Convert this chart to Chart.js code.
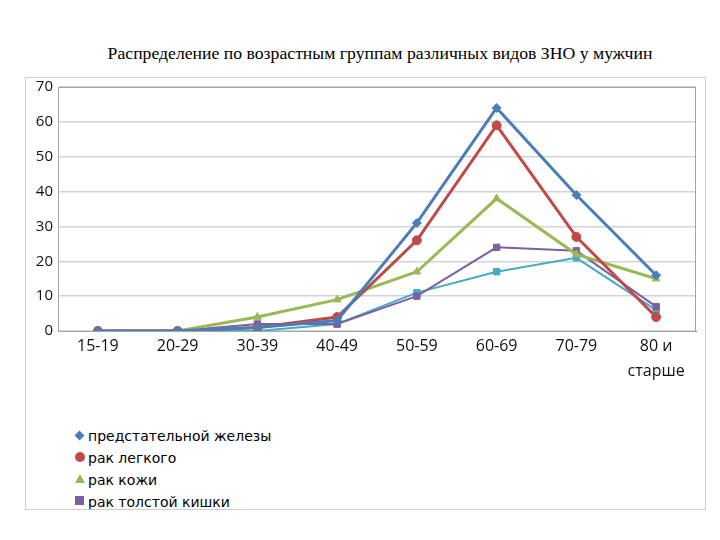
<!DOCTYPE html>
<html>
<head>
<meta charset="utf-8">
<script src="https://cdn.jsdelivr.net/npm/chart.js@4"></script>
<style>
  body { margin: 0; background: #fff; }
  #wrap { position: relative; width: 720px; height: 540px; }
  #title { position: absolute; left: 0; top: 43px; width: 760px; text-align: center;
           font-family: "Liberation Serif", serif; font-size: 17.7px; color: #000; white-space: nowrap; }
  #box { position: absolute; left: 25px; top: 77px; width: 679px; height: 431px;
         border: 1px solid #cfcfcf; overflow: hidden; }
  #chart { position: absolute; left: 0; top: 0; }
  #legend { position: absolute; left: 49px; top: 347px; font-family: "DejaVu Sans", sans-serif;
            font-size: 14px; color: #000; }
  .item { height: 22px; line-height: 22px; position: relative; padding-left: 13px; white-space: nowrap; }
  .mk { position: absolute; left: 0; top: 50%; }
</style>
</head>
<body>
<div id="wrap">
  <div id="title">Распределение по возрастным группам различных видов ЗНО у мужчин</div>
  <div id="box"><div id="legend"></div></div>
  <canvas id="chart" width="720" height="540"></canvas>
</div>
<script>
// categories (age groups)
var ageGroups = ['15-19', '20-29', '30-39', '40-49', '50-59', '60-69', '70-79', ['80 и', 'старше']];

// series names and values
var seriesNames = ['предстательной железы', 'рак легкого', 'рак кожи', 'рак толстой кишки', ''];
var prostate = [0, 0, 1, 3, 31, 64, 39, 16];
var lung     = [0, 0, 1, 4, 26, 59, 27, 4];
var skin     = [0, 0, 4, 9, 17, 38, 22, 15];
var colon    = [0, 0, 2, 2, 10, 24, 23, 7];
var fifth    = [0, 0, 0, 2, 11, 17, 21, 6];

var yTicks = [0, 10, 20, 30, 40, 50, 60, 70];

var colors = ['#4a7ebb', '#be4b48', '#98b954', '#7d60a0', '#46aac5'];
var markers = ['rectRot', 'circle', 'triangle', 'rect', 'rect'];
var widths = [3, 3, 3, 2, 2];
var allValues = [prostate, lung, skin, colon, fifth];

var datasets = allValues.map(function (vals, i) {
    return {
        label: seriesNames[i],
        data: vals,
        borderColor: colors[i],
        backgroundColor: colors[i],
        borderWidth: widths[i],
        pointStyle: markers[i],
        pointRadius: 4.5,
        pointBorderWidth: 1,
        tension: 0
    };
});

// grey frame round the plot area
var frame = {
    id: 'frame',
    afterDraw: function (chart) {
        var a = chart.chartArea, c = chart.ctx;
        c.save();
        c.strokeStyle = '#a6a6a6';
        c.lineWidth = 1;
        c.strokeRect(a.left + 0.5, a.top + 0.5, a.right - a.left - 1, a.bottom - a.top);
        c.restore();
    }
};

var ctx = document.getElementById('chart').getContext('2d');
var chart = new Chart(ctx, {
    type: 'line',
    data: { labels: ageGroups, datasets: datasets },
    options: {
        responsive: false,
        animation: false,
        layout: { padding: { left: 20, right: 24, top: 87, bottom: 159 } },
        plugins: {
            legend: { display: false },
            title: { display: false },
            tooltip: { enabled: false }
        },
        scales: {
            x: {
                offset: true,
                grid: { display: false, drawTicks: false },
                border: { color: '#868686', width: 1 },
                ticks: {
                    padding: 3,
                    color: '#111',
                    maxRotation: 0,
                    autoSkip: false,
                    font: { family: 'Open Sans', size: 16, lineHeight: 1.56 }
                },
                afterFit: function (s) { s.height = 50; }
            },
            y: {
                min: 0,
                max: 70,
                afterBuildTicks: function (s) { s.ticks = yTicks.map(function (v) { return { value: v }; }); },
                grid: { color: '#d4d4d4', lineWidth: 1.5, drawTicks: false },
                border: { color: '#868686', width: 1 },
                ticks: {
                    padding: 5,
                    color: '#111',
                    font: { family: 'Open Sans', size: 15 }
                },
                afterFit: function (s) { s.width = 38; }
            }
        }
    },
    plugins: [frame]
});

// legend drawn as a vertical list, clipped by the box like in the source
var legend = document.getElementById('legend');
for (var i = 0; i < 4; i++) {
    var row = document.createElement('div');
    row.className = 'item';
    var m = document.createElement('span');
    m.className = 'mk';
    if (markers[i] === 'rectRot') {
        m.style.cssText = 'width:7px;height:7px;margin-top:-4px;left:1px;transform:rotate(45deg);background:' + colors[i];
    } else if (markers[i] === 'circle') {
        m.style.cssText = 'width:10px;height:10px;margin-top:-6px;border-radius:50%;background:' + colors[i];
    } else if (markers[i] === 'triangle') {
        m.style.cssText = 'width:0;height:0;margin-top:-6px;border-left:5px solid transparent;border-right:5px solid transparent;border-bottom:9px solid ' + colors[i];
    } else {
        m.style.cssText = 'width:9px;height:9px;margin-top:-6px;background:' + colors[i];
    }
    row.appendChild(m);
    row.appendChild(document.createTextNode(seriesNames[i]));
    legend.appendChild(row);
}
</script>
</body>
</html>
